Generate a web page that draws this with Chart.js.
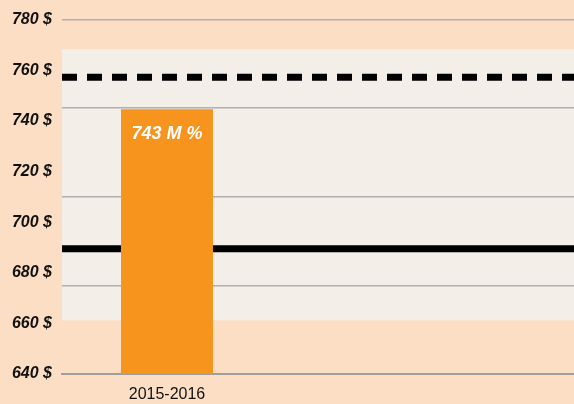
<!DOCTYPE html>
<html>
<head>
<meta charset="utf-8">
<script src="https://cdn.jsdelivr.net/npm/chart.js@4/dist/chart.umd.min.js"></script>
<style>
  html, body { margin: 0; padding: 0; width: 574px; height: 404px; overflow: hidden; background: #fcdec4; }
  #wrap { width: 692px; height: 404px; }
</style>
</head>
<body>
<div id="wrap"><canvas id="grafico" width="692" height="404"></canvas></div>
<script>
// datos
const categorias = ['2015-2016', '', ''];
const valores = [744.6, null, null];
const etiquetas = ['743 M %'];
const lineaPunteada = [757.2];
const lineaSolida = [689.5];
const banda = [661.2, 768.3];
const ticksY = [640, 660, 680, 700, 720, 740, 760, 780];

const fuente = "'Liberation Sans', Arial, sans-serif";

const fondo = {
  id: 'fondo',
  beforeDraw(chart) {
    const ctx = chart.ctx;
    const area = chart.chartArea;
    const y = chart.scales.y;
    ctx.save();
    ctx.fillStyle = '#fcdec4';
    ctx.fillRect(0, 0, chart.width, chart.height);
    const top = y.getPixelForValue(banda[1]);
    const bot = y.getPixelForValue(banda[0]);
    ctx.fillStyle = '#f3efe8';
    ctx.fillRect(area.left, top, area.right - area.left, bot - top);
    ctx.restore();
  },
  beforeDatasetsDraw(chart) {
    const ctx = chart.ctx;
    const area = chart.chartArea;
    const y = chart.scales.y;
    ctx.save();
    ctx.strokeStyle = '#000';
    ctx.lineWidth = 7;
    // linea solida
    let py = y.getPixelForValue(lineaSolida[0]);
    ctx.beginPath();
    ctx.moveTo(area.left, py);
    ctx.lineTo(area.right, py);
    ctx.stroke();
    // linea punteada
    py = y.getPixelForValue(lineaPunteada[0]);
    ctx.setLineDash([15, 10]);
    ctx.beginPath();
    ctx.moveTo(area.left, py);
    ctx.lineTo(area.right, py);
    ctx.stroke();
    ctx.restore();
  },
  afterDatasetsDraw(chart) {
    const ctx = chart.ctx;
    const meta = chart.getDatasetMeta(0);
    ctx.save();
    ctx.fillStyle = '#fff';
    ctx.font = 'italic bold 18px ' + fuente;
    ctx.textAlign = 'center';
    ctx.textBaseline = 'middle';
    etiquetas.forEach((t, i) => {
      const bar = meta.data[i];
      ctx.fillText(t, bar.x, bar.y + 25);
    });
    ctx.restore();
  }
};

new Chart(document.getElementById('grafico'), {
  type: 'bar',
  data: {
    labels: categorias,
    datasets: [{
      data: valores,
      backgroundColor: '#f7941e',
      borderWidth: 0,
      barPercentage: 0.438,
      categoryPercentage: 1
    }]
  },
  options: {
    responsive: false,
    animation: false,
    layout: { padding: { top: 18, right: 0, left: 0, bottom: 0 } },
    plugins: { legend: { display: false }, tooltip: { enabled: false } },
    scales: {
      x: {
        grid: { display: false, drawTicks: false },
        border: { display: true, color: '#9e9e9e', width: 2 },
        ticks: {
          color: '#111',
          font: { family: fuente, size: 16 },
          padding: 11,
          maxRotation: 0
        },
        afterFit(s) { s.height = 30; }
      },
      y: {
        min: 640,
        max: 780,
        afterBuildTicks(s) { s.ticks = ticksY.map(v => ({ value: v })); },
        grid: { display: false, drawTicks: false },
        border: { display: false },
        ticks: {
          color: '#111',
          font: { family: fuente, size: 16, style: 'italic', weight: 'bold' },
          padding: 10,
          callback: v => v + ' $'
        },
        afterFit(s) { s.width = 62; }
      },
      yg: {
        position: 'left',
        min: 640,
        max: 780,
        ticks: { display: false, stepSize: 35 },
        grid: { color: '#b0b0b0', lineWidth: 1.5, drawTicks: false },
        border: { display: false },
        afterFit(s) { s.width = 0; }
      }
    }
  },
  plugins: [fondo]
});
</script>
</body>
</html>
